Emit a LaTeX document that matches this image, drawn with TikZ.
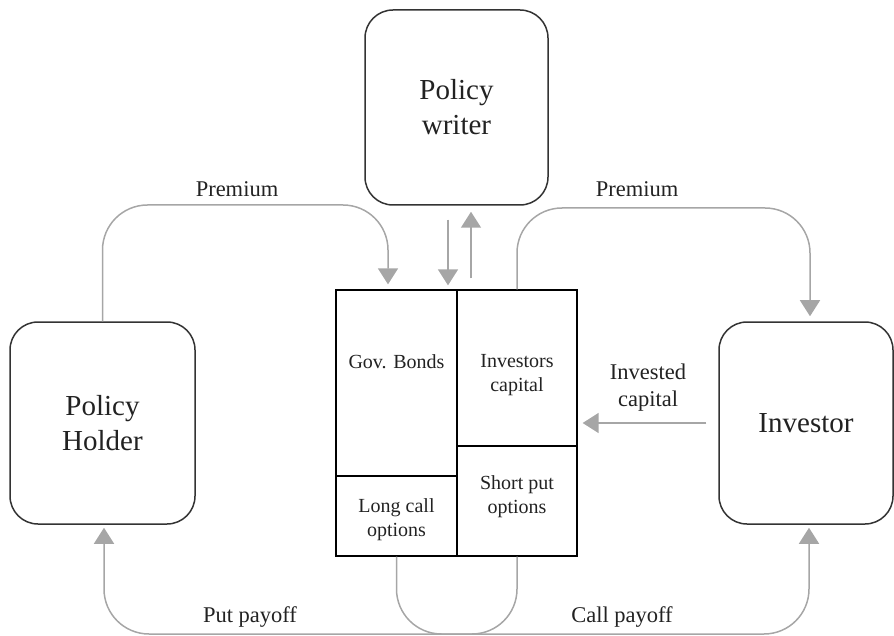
\documentclass[tikz,border=0pt]{standalone}
\usepackage{fontspec}
\setmainfont{Liberation Serif}
\usetikzlibrary{arrows.meta, calc}
\definecolor{flowgray}{RGB}{166, 166, 166}
\definecolor{boxline}{RGB}{51, 51, 51}
\definecolor{txtdark}{RGB}{34, 34, 34}

\begin{document}
\begin{tikzpicture}[x=1pt, y=-1pt,
    party/.style={draw=boxline, line width=1.5pt, rounded corners=28pt, align=center,
        text=txtdark, font=\fontsize{29}{35}\selectfont, inner sep=0pt},
    cell/.style={draw=black, line width=1.3pt, inner sep=0pt},
    celltext/.style={align=center, text=txtdark, font=\fontsize{20}{24}\selectfont},
    flowlabel/.style={align=center, text=txtdark, font=\fontsize{22.5}{27}\selectfont},
    flow/.style={draw=flowgray, line width=1.5pt, -{Triangle[length=16pt, width=20pt]},
        rounded corners=45pt}
]
\useasboundingbox (0,0) rectangle (894,636);

% === Parties ===
\node[party, minimum width=183pt, minimum height=195pt] (writer) at (456.5,107.5) {Policy\\writer};
\node[party, minimum width=185pt, minimum height=202pt] (holder) at (102.5,423) {Policy\\Holder};
\node[party, minimum width=174pt, minimum height=202pt] (investor) at (806,423) {Investor};

% === Fund (cells) ===
\node[cell, minimum width=121pt, minimum height=186pt] (bonds) at (396.5,383) {};
\node[cell, minimum width=121pt, minimum height=80pt] (longcall) at (396.5,516) {};
\node[cell, minimum width=120pt, minimum height=156pt] (invcap) at (517,368) {};
\node[cell, minimum width=120pt, minimum height=110pt] (shortput) at (517,501) {};

\node[celltext] (bondstxt) at (396.5,362) {Gov. Bonds};
\node[celltext] (invcaptxt) at (517,375) {Investors\\capital};
\node[celltext] (longcalltxt) at (396.5,520) {Long call\\options};
\node[celltext] (shortputtxt) at (517,497) {Short put\\options};

% === Flows ===
\coordinate (premL) at (388,205);
\coordinate (premR) at (810,208);
\coordinate (wdown) at ([xshift=-8.5pt]writer.south);
\coordinate (wup) at ([xshift=14.5pt]writer.south);
\coordinate (putC) at (104,634);
\coordinate (callC) at (809,634);

\draw[flow, shorten >=5pt] (holder.north) |- (premL) -- (premL |- bonds.north);
\draw[flow, shorten <=14pt, shorten >=4pt] (wdown) -- (wdown |- bonds.north);
\draw[flow, shorten <=11pt, shorten >=6pt] (wup |- invcap.north) -- (wup);
\draw[flow, shorten >=5pt] (invcap.north) |- (premR) -- (premR |- investor.north);
\draw[flow, shorten <=12pt, shorten >=5pt] (investor.west) -- (investor.west -| invcap.east);
\draw[flow, shorten >=3pt] (shortput.south) |- (putC) -- (putC |- holder.south);
\draw[flow, shorten >=3pt] (longcall.south) |- (callC) -- (callC |- investor.south);

% Etiquetas
\node[flowlabel] (premLlbl) at (237,189) {Premium};
\node[flowlabel] (premRlbl) at (637,189) {Premium};
\node[flowlabel] (investlbl) at (648,388) {Invested\\capital};
\node[flowlabel] (putlbl) at (250,617) {Put payoff};
\node[flowlabel] (calllbl) at (622,617) {Call payoff};

\end{tikzpicture}
\end{document}
